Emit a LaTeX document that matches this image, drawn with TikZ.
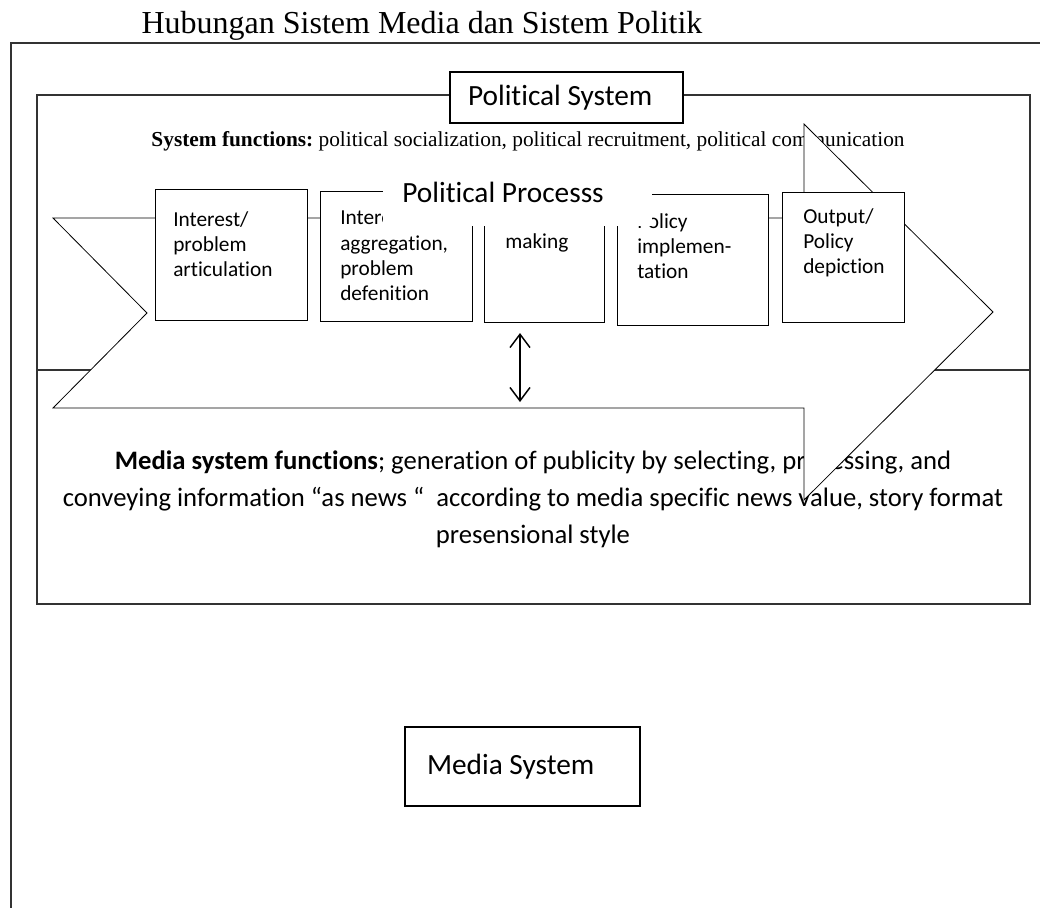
\documentclass[tikz,border=0pt]{standalone}
\usepackage{fontspec}
\setmainfont{Liberation Serif}
\newfontfamily\calib[Ligatures=NoCommon]{Carlito}
\usetikzlibrary{arrows.meta}
\frenchspacing
\begin{document}
\begin{tikzpicture}[x=0.75pt,y=-0.75pt,
  frame/.style={draw=black!80, line width=0.9pt},
  thinline/.style={draw=black, line width=0.6pt},
  box/.style={draw=black, line width=0.6pt, fill=white, inner sep=0pt},
  boxtext/.style={font=\calib\fontsize{16}{19}\selectfont, align=left, inner sep=0pt, anchor=north west},
  biglabel/.style={font=\calib\fontsize{22}{26}\selectfont},
  dbl/.style={line width=1.1pt, {Straight Barb[length=10pt,width=15pt]}-{Straight Barb[length=10pt,width=15pt]}}]
\useasboundingbox (0,0) rectangle (1040,908);
% title
\node[font=\fontsize{24}{28}\selectfont, anchor=base, inner sep=0pt] (title) at (422,33) {Hubungan Sistem Media dan Sistem Politik};
% outer frame
\draw[frame] (1040,43) -- (11,43) -- (11,908);
% inner frames
\draw[frame] (37,95) rectangle (1030,370);
\draw[frame] (37,370) rectangle (1030,604);
% system functions
\node[font=\fontsize{16}{19}\selectfont\frenchspacing, anchor=base, inner sep=0pt] (sf) at (528,146) {\textbf{System functions:} political socialization, political recruitment, political communication};
% media functions
\node[font=\calib\fontsize{20}{27.75}\selectfont\frenchspacing, align=center, anchor=north, inner sep=0pt] (mf) at (533,451) {\textbf{Media system functions}; generation of publicity by selecting, processing, and\\conveying information “as news “\ \ according to media specific news value, story format\\presensional style};
% big process arrow
\draw[thinline, fill=white] (53,218) -- (804,218) -- (804,124) -- (993,312) -- (804,500) -- (804,408) -- (53,408) -- (147,313) -- cycle;
% process boxes
\node[box, minimum width=114pt, minimum height=98.25pt] (b1) at (231,254.5) {};
\node[box, minimum width=114pt, minimum height=97.5pt] (b2) at (396,256) {};
\node[box, minimum width=90pt, minimum height=96.75pt] (b3) at (544,257.5) {};
\node[box, minimum width=113.25pt, minimum height=98.25pt] (b4) at (692.5,259.5) {};
\node[box, minimum width=91.5pt, minimum height=97.5pt] (b5) at (843,257) {};
\node[boxtext] (t1) at (173,211) {Interest/\\problem\\articulation};
\node[boxtext] (t2) at (340,211) {Interest\\aggregation,\\problem\\defenition};
\node[boxtext, anchor=base west] (t3) at (505,248) {making};
\node[boxtext] (t4) at (637,213) {Policy\\implemen-\\tation};
\node[boxtext] (t5) at (803,208) {Output/\\Policy\\depiction};
% political process label
\fill[white] (383,165) rectangle (652,226);
\node[biglabel, inner sep=0pt] (pp) at (503,192) {Political Processs};
% political system label
\node[box, biglabel, line width=0.8pt, minimum height=38.25pt, inner xsep=13.5pt] (ps) at (566.5,97.5) {\makebox[147.75pt][l]{Political System}};
% media system label
\node[box, biglabel, line width=0.8pt, minimum height=59.25pt, inner xsep=16.5pt] (ms) at (522.5,766.5) {\makebox[143.25pt][l]{Media System}};
% two-way arrow
\coordinate (da1) at (520,333);
\coordinate (da2) at (520,402);
\draw[dbl] (da1) -- (da2);
\end{tikzpicture}
\end{document}
